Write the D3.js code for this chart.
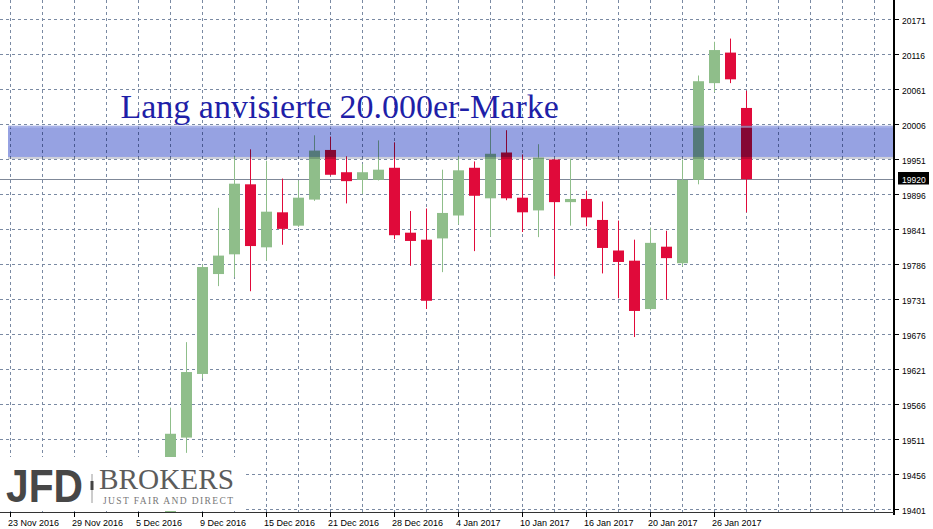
<!DOCTYPE html>
<html><head><meta charset="utf-8">
<script src="https://cdn.jsdelivr.net/npm/d3@7"></script>
<style>html,body{margin:0;padding:0;background:#fff;}svg{display:block;}</style>
</head><body>
<script>
// ---- data ----
const axisDays = ["2016-11-23","2016-11-24","2016-11-25","2016-11-28","2016-11-29","2016-11-30",
 "2016-12-01","2016-12-02","2016-12-05","2016-12-06","2016-12-07","2016-12-08","2016-12-09",
 "2016-12-12","2016-12-13","2016-12-14","2016-12-15","2016-12-16","2016-12-19","2016-12-20",
 "2016-12-21","2016-12-22","2016-12-23","2016-12-27","2016-12-28","2016-12-29","2016-12-30",
 "2017-01-03","2017-01-04","2017-01-05","2017-01-06","2017-01-09","2017-01-10","2017-01-11",
 "2017-01-12","2017-01-13","2017-01-16","2017-01-17","2017-01-18","2017-01-19","2017-01-20",
 "2017-01-23","2017-01-24","2017-01-25","2017-01-26","2017-01-27","2017-01-30"];
const tickLabels = ["23 Nov 2016","29 Nov 2016","5 Dec 2016","9 Dec 2016","15 Dec 2016","21 Dec 2016",
 "28 Dec 2016","4 Jan 2017","10 Jan 2017","16 Jan 2017","20 Jan 2017","26 Jan 2017"];
const tickDays = ["2016-11-23","2016-11-29","2016-12-05","2016-12-09","2016-12-15","2016-12-21",
 "2016-12-28","2017-01-04","2017-01-10","2017-01-16","2017-01-20","2017-01-26"];
const candleDays = axisDays.slice(10);
const opens  = [19395,19514,19614,19771,19802,19912,19813,19868,19847,19888,19966,19931,19919,19919,
 19938,19836,19825,19827,19863,19938,19890,19962,19891,19871,19951,19884,19889,19856,19808,19792,
 19716,19814,19788,19919,20071,20119,20032];
const highs  = [19561,19664,19786,19875,19957,19967,19949,19921,19918,19989,19987,19956,19944,19981,
 19978,19870,19874,19935,19957,19948,20004,19997,19959,19975,19952,19952,19902,19885,19855,19825,
 19844,19839,19951,20083,20136,20141,20059];
const lows   = [19385,19490,19607,19752,19766,19744,19792,19817,19845,19886,19926,19882,19897,19918,
 19826,19784,19716,19774,19849,19807,19830,19887,19837,19829,19768,19847,19846,19772,19733,19672,
 19714,19731,19783,19912,20057,20071,19868];
const closes = [19520,19617,19782,19800,19913,19815,19869,19842,19891,19965,19927,19917,19931,19935,
 19832,19823,19729,19867,19934,19894,19960,19890,19868,19954,19884,19889,19860,19812,19790,19713,
 19820,19796,19919,20074,20123,20077,19920];
const yTicks = [20171,20116,20061,20006,19951,19896,19841,19786,19731,19676,19621,19566,19511,19456,19401];
const lastPrice = 19920;
const zone = [19955, 20004];
const title = "Lang anvisierte 20.000er-Marke";

// ---- layout ----
const W = 933, H = 529, plotR = 893, plotB = 512;
const svg = d3.select("body").append("svg").attr("width", W).attr("height", H)
  .style("font-family","'Liberation Sans', Arial, sans-serif");
const slot = d => axisDays.indexOf(d);
const x = d3.scaleLinear().domain([0, 55]).range([10.5, 890.5]);
const y = d3.scaleLinear().domain([19401, 20171]).range([509.5, 19.5]);

svg.append("defs").append("clipPath").attr("id","plot")
  .append("rect").attr("x",0).attr("y",0).attr("width",plotR).attr("height",plotB);

const plot = svg.append("g").attr("clip-path","url(#plot)");
const gridCol = "#7a8aa3";
plot.append("g").selectAll("line").data(d3.range(0, 55, 2)).join("line")
  .attr("x1", d => x(d)).attr("x2", d => x(d)).attr("y1", 0).attr("y2", plotB)
  .attr("stroke", gridCol).attr("stroke-width",1).attr("stroke-dasharray","3,3");
plot.append("g").selectAll("line").data(yTicks).join("line")
  .attr("x1", 0).attr("x2", plotR).attr("y1", d => Math.round(y(d)-0.5)+0.5).attr("y2", d => Math.round(y(d)-0.5)+0.5)
  .attr("stroke", gridCol).attr("stroke-width",1).attr("stroke-dasharray","3,3");

const py = Math.round(y(lastPrice)-0.5)+0.5;
plot.append("line").attr("x1",0).attr("x2",plotR).attr("y1",py).attr("y2",py)
  .attr("stroke","#7f8898").attr("stroke-width",1);

const green = "#8fbe8a", red = "#e00a3a";
const cd = candleDays.map((d,i)=>({d, o:opens[i], h:highs[i], l:lows[i], c:closes[i]}));
const cg = plot.append("g");
cg.selectAll("line").data(cd).join("line")
  .attr("x1", d => x(slot(d.d))).attr("x2", d => x(slot(d.d)))
  .attr("y1", d => y(d.h)).attr("y2", d => y(d.l))
  .attr("stroke", d => d.c >= d.o ? green : red).attr("stroke-width",1);
cg.selectAll("rect").data(cd).join("rect")
  .attr("x", d => x(slot(d.d)) - 5.5).attr("width", 11)
  .attr("y", d => y(Math.max(d.o,d.c)))
  .attr("height", d => Math.max(1, y(Math.min(d.o,d.c)) - y(Math.max(d.o,d.c))))
  .attr("fill", d => d.c >= d.o ? green : red);

plot.append("rect").attr("x", 8).attr("width", plotR - 8)
  .attr("y", y(zone[1])).attr("height", y(zone[0]) - y(zone[1]))
  .attr("fill", "#96a2e2").style("mix-blend-mode","multiply");
plot.append("rect").attr("x", 8).attr("width", plotR - 8)
  .attr("y", y(zone[1])).attr("height", 2)
  .attr("fill", "#b4bcec").attr("opacity",0.6);
plot.append("rect").attr("x", 8).attr("width", plotR - 8)
  .attr("y", y(zone[0])).attr("height", 2)
  .attr("fill", "#cfd1da").style("mix-blend-mode","multiply");

svg.append("text").attr("x", 120.5).attr("y", 117.5).text(title)
  .attr("font-family","'Liberation Serif', 'Times New Roman', serif").attr("font-size", 34)
  .attr("fill", "#1f1fa8");

svg.append("rect").attr("x", 893).attr("y", 0).attr("width", 2).attr("height", 515).attr("fill","#000");
svg.append("line").attr("x1",0).attr("x2",894).attr("y1",512.5).attr("y2",512.5).attr("stroke","#333");
const ya = svg.append("g");
ya.selectAll("line").data(yTicks).join("line")
  .attr("x1",895).attr("x2",899).attr("y1", d => Math.round(y(d)-0.5)+0.5).attr("y2", d => Math.round(y(d)-0.5)+0.5)
  .attr("stroke","#000");
ya.selectAll("text").data(yTicks).join("text")
  .attr("x", 902).attr("y", d => y(d) + 4).text(d => d)
  .attr("font-size", 8.5).attr("fill","#000");
svg.append("rect").attr("x",898).attr("y",py-7.5).attr("width",31).attr("height",12.5).attr("fill","#000");
svg.append("text").attr("x",902).attr("y",py+3.5).text(lastPrice)
  .attr("font-size",8.5).attr("fill","#fff");

const xa = svg.append("g");
const td = tickDays.map((d,i)=>({d, label: tickLabels[i]}));
xa.selectAll("line").data(td).join("line")
  .attr("x1", d => x(slot(d.d))).attr("x2", d => x(slot(d.d))).attr("y1",512).attr("y2",517)
  .attr("stroke","#000");
xa.selectAll("text").data(td).join("text")
  .attr("x", d => x(slot(d.d)) - 2.5).attr("y", 526).text(d => d.label)
  .attr("font-size", 9).attr("fill","#000");

const logo = svg.append("g");
logo.append("rect").attr("x",0).attr("y",457).attr("width",244).attr("height",54).attr("fill","#fff");
logo.append("text").attr("x",6).attr("y",502).text("JFD")
  .attr("font-family","'Liberation Sans', Arial, sans-serif").attr("font-weight","bold")
  .attr("font-size",47).attr("fill","#474747")
  .attr("textLength",77).attr("lengthAdjust","spacingAndGlyphs");
logo.append("line").attr("x1",92).attr("x2",92).attr("y1",474).attr("y2",503).attr("stroke","#9a9a9a");
logo.append("rect").attr("x",90.5).attr("y",481).attr("width",3).attr("height",9).attr("fill","#444");
logo.append("text").attr("x",99).attr("y",489).text("BROKERS")
  .attr("font-family","'Liberation Serif', 'Times New Roman', serif")
  .attr("font-size",28.5).attr("fill","#5c5c5c")
  .attr("textLength",135).attr("lengthAdjust","spacingAndGlyphs");
logo.append("text").attr("x",103).attr("y",503.5).text("JUST FAIR AND DIRECT")
  .attr("font-family","'Liberation Serif', 'Times New Roman', serif")
  .attr("font-size",9.5).attr("fill","#777")
  .attr("textLength",130).attr("lengthAdjust","spacing");
</script>
</body></html>
